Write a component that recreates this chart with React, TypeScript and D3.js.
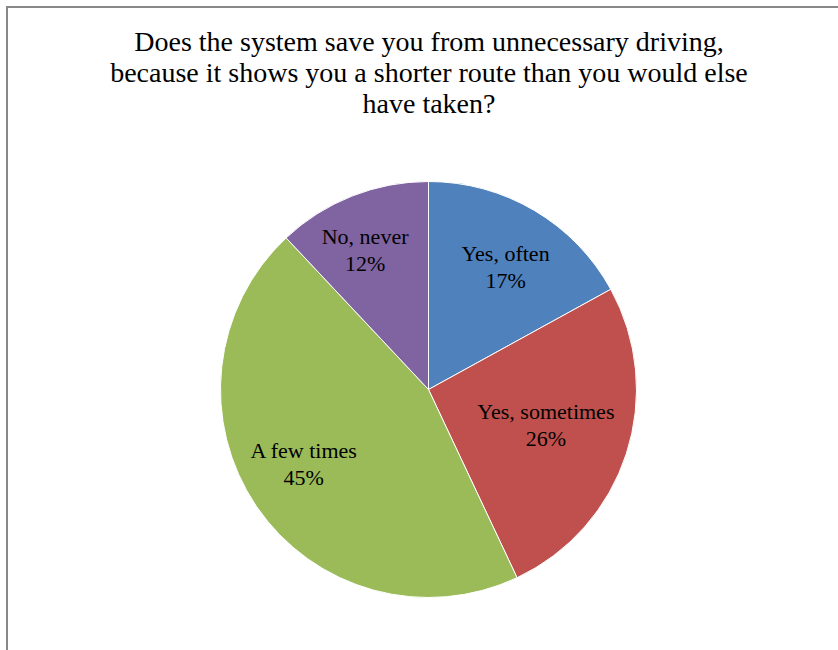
import React from "react";
import * as d3 from "d3";

const categories = ["Yes, often", "Yes, sometimes", "A few times", "No, never"];
const values = [17, 26, 45, 12];
const colors = ["#4F81BD", "#C0504D", "#9BBB59", "#8064A2"];
const titleLines = [
  "Does the system save you from unnecessary driving,",
  "because it shows you a shorter route than you would else",
  "have taken?",
];
// label placement (fraction of radius, angle nudge in degrees), like Excel's best-fit
const labelRadius = [0.697, 0.589, 0.7, 0.735];
const labelAngleShift = [1.5, -1.4, 3.2, -2.9];

const W = 838;
const H = 650;
const cx = 428.5;
const cy = 389.5;
const R = 208;

export default function App() {
  const pie = d3.pie<number>().sort(null).value((d) => d);
  const arcs = pie(values);
  const arc = d3.arc<d3.PieArcDatum<number>>().innerRadius(0).outerRadius(R);
  const font = "'Liberation Serif', 'DejaVu Serif', serif";
  return (
    <svg width={W} height={H} style={{ position: "absolute", left: 0, top: 0, background: "#fff" }}>
      <rect x={0} y={0} width={W} height={H} fill="#fff" />
      <rect x={7} y={7} width={W + 10} height={H + 10} fill="none" stroke="#888" strokeWidth={2} />
      <g fontFamily={font} fontSize={28} fill="#000" textAnchor="middle">
        {titleLines.map((t, i) => (
          <text key={i} x={429} y={51 + i * 31}>{t}</text>
        ))}
      </g>
      <g transform={`translate(${cx},${cy})`}>
        {arcs.map((a, i) => (
          <path key={i} d={arc(a) || ""} fill={colors[i]} stroke="#fff" strokeWidth={1} />
        ))}
        {arcs.map((a, i) => {
          const r = R * labelRadius[i];
          const ang = (a.startAngle + a.endAngle) / 2 + (labelAngleShift[i] * Math.PI) / 180;
          const x = r * Math.sin(ang);
          const y = -r * Math.cos(ang);
          return (
            <text key={"l" + i} x={x} y={y} fontFamily={font} fontSize={22} textAnchor="middle" fill="#000">
              <tspan x={x} dy={-6}>{categories[i]}</tspan>
              <tspan x={x} dy={27}>{values[i] + "%"}</tspan>
            </text>
          );
        })}
      </g>
    </svg>
  );
}
